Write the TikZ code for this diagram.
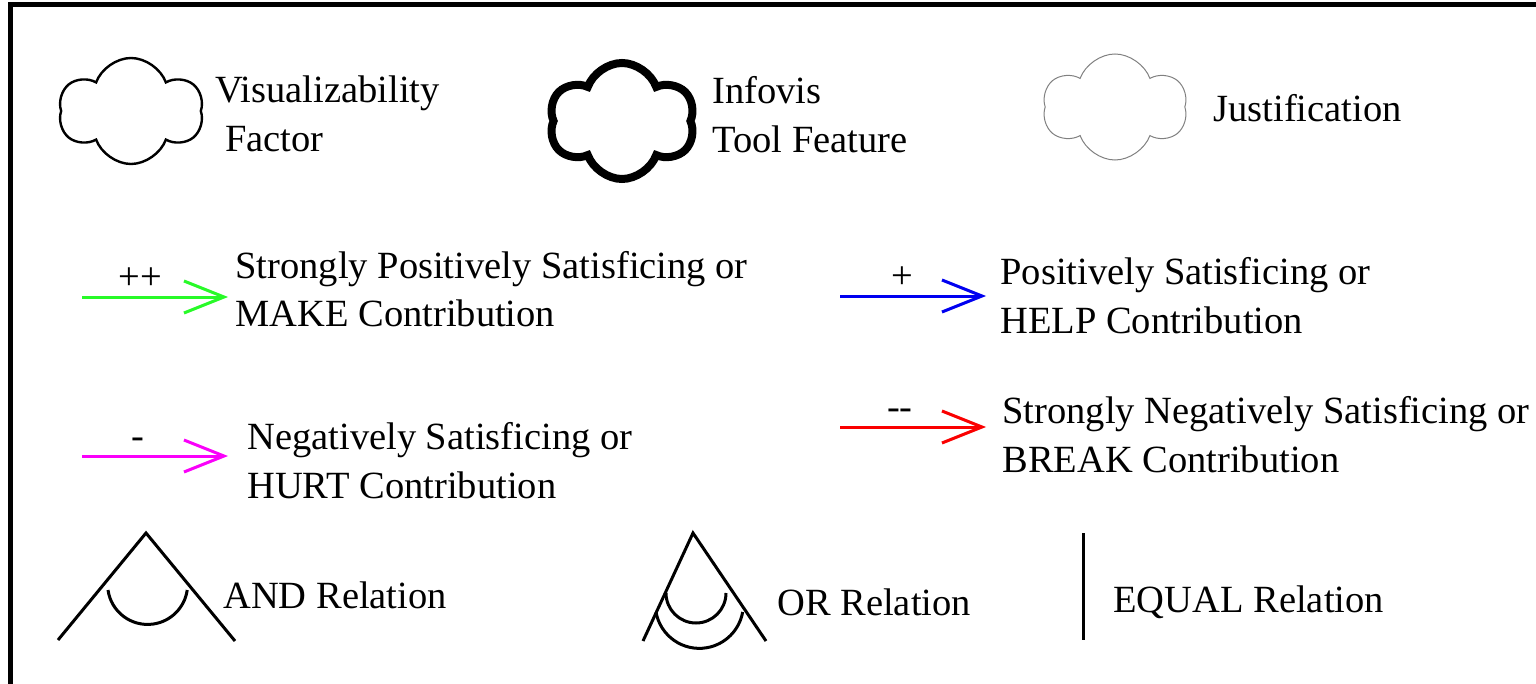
\documentclass[tikz,border=0pt]{standalone}
\usepackage{fontspec}
\setmainfont{Liberation Serif}
\usetikzlibrary{shapes.symbols,arrows.meta,positioning}
\definecolor{makegreen}{RGB}{40,250,40}
\definecolor{helpblue}{RGB}{0,0,240}
\definecolor{hurtmagenta}{RGB}{250,0,250}
\definecolor{breakred}{RGB}{250,0,0}
\tikzset{
  lbl/.style={anchor=base west,inner sep=0pt,align=left,font=\fontsize{19.25pt}{24.5pt}\selectfont},
  puff/.style={cloud,cloud puffs=6,cloud puff arc=140,cloud ignores aspect,draw,inner sep=0pt},
  contrib/.style={line width=1.5pt,-{Straight Barb[length=20pt,width=16pt]}},
  sign/.style={above=3pt,inner sep=0pt,font=\fontsize{19.25pt}{24pt}\selectfont},
  relation/.style={line width=1.5pt}
}
\begin{document}
\begin{tikzpicture}[x=0.5pt,y=-0.5pt]
\useasboundingbox (0,0) rectangle (1536,684);
% frame
\draw[line width=2.5pt] (10,700) -- (10,5) -- (1560,5);
% softgoal kinds (two-line labels sit on their last baseline)
\node[puff,line width=1.2pt,minimum width=72pt,minimum height=53pt] (vf) at (131,111) {};
\node[lbl] (vflbl) at (215,152) {Visualizability\\\hspace*{5pt}Factor};
\node[puff,line width=4pt,minimum width=73pt,minimum height=58pt] (itf) at (622,121) {};
\node[lbl] (itflbl) at (712,153) {Infovis\\Tool Feature};
\node[puff,draw=gray,line width=0.5pt,minimum width=72pt,minimum height=53pt] (just) at (1115,107) {};
\node[lbl] (justlbl) at (1213,122) {Justification};
% contributions
\coordinate (make0) at (82,297);
\coordinate (make1) at (228,297);
\draw[contrib,makegreen] (make0) -- node[sign,black,pos=.4] {++} (make1);
\node[lbl] (makelbl) at (235,327) {Strongly Positively Satisficing or\\MAKE Contribution};
\coordinate (help0) at (840,296);
\coordinate (help1) at (986,296);
\draw[contrib,helpblue] (help0) -- node[sign,black,pos=.43] {+} (help1);
\node[lbl] (helplbl) at (1000,333) {Positively Satisficing or\\HELP Contribution};
\coordinate (hurt0) at (82,456);
\coordinate (hurt1) at (228,456);
\draw[contrib,hurtmagenta] (hurt0) -- node[sign,black,pos=.38] {-} (hurt1);
\node[lbl] (hurtlbl) at (247,498) {Negatively Satisficing or\\HURT Contribution};
\coordinate (break0) at (840,427);
\coordinate (break1) at (986,427);
\draw[contrib,breakred] (break0) -- node[sign,black,pos=.41] {-{}-} (break1);
\node[lbl] (breaklbl) at (1002,472) {Strongly Negatively Satisficing or\\BREAK Contribution};
% decompositions
\draw[relation] (58,640) -- (146,533) -- (235,641);
\draw[relation] (108,590) arc[start angle=172,end angle=8,radius=40];
\node[lbl] (andlbl) at (223,608) {AND Relation};
\draw[relation] (643,641) -- (693,533) -- (766,641);
\draw[relation] (666,593) arc[start angle=180,end angle=0,radius=30];
\draw[relation] (656,612) arc[start angle=170,end angle=10,radius=44];
\node[lbl] (orlbl) at (777,615) {OR Relation};
\draw[relation] (1083,533) -- (1083,640);
\node[lbl] (equallbl) at (1113,612) {EQUAL Relation};
\end{tikzpicture}
\end{document}
